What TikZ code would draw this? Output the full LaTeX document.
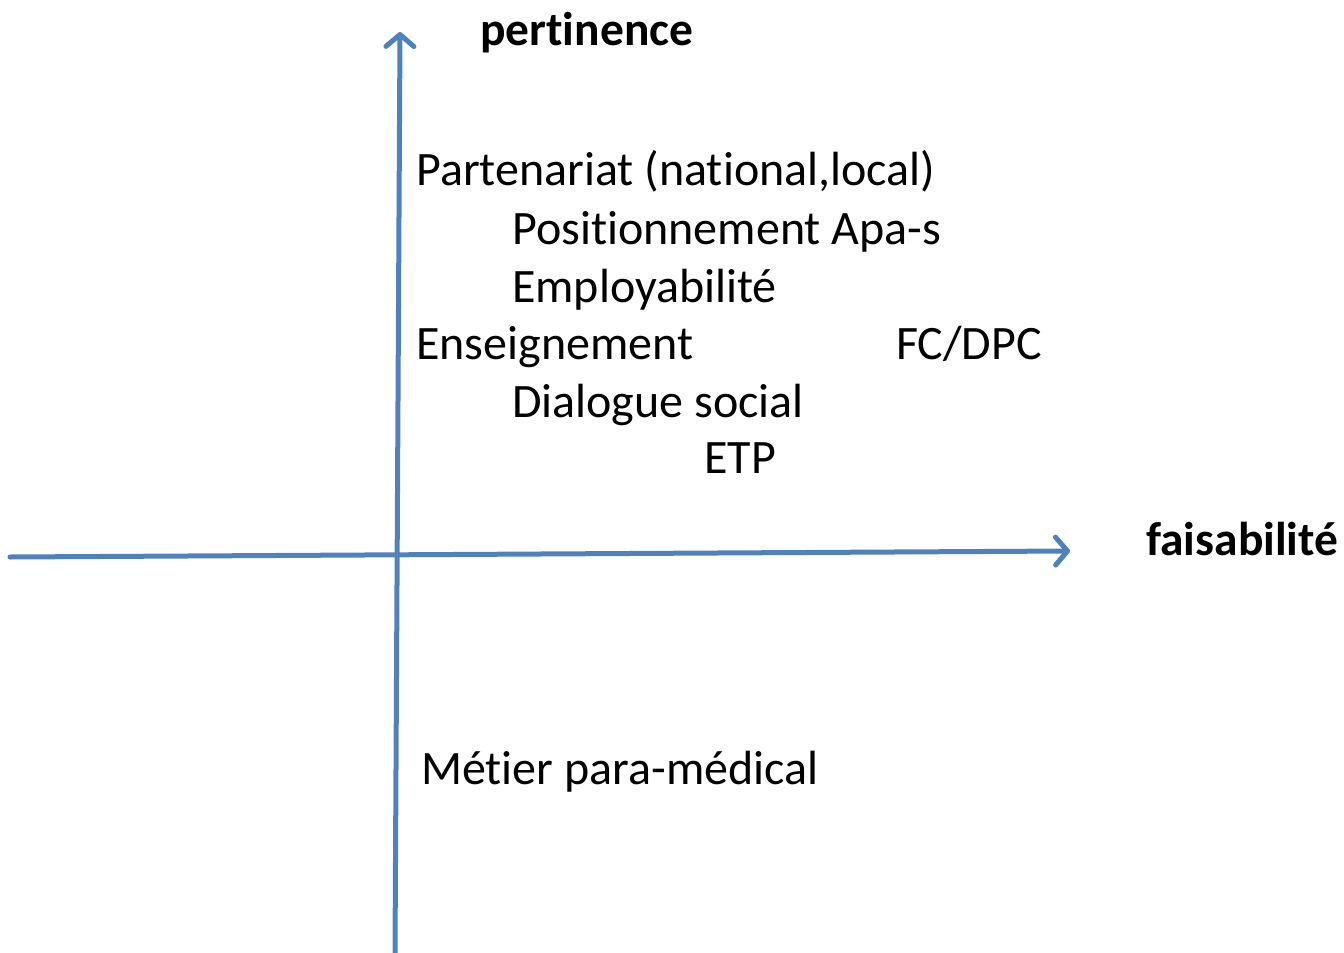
\documentclass[tikz,border=0pt]{standalone}
\usepackage{fontspec}
\setmainfont[Ligatures={NoCommon}]{Carlito}
\usetikzlibrary{arrows.meta}
\definecolor{axisblue}{HTML}{4F81BD}
\tikzset{
  axis/.style={draw=axisblue, line width=5pt, line cap=round, -{Straight Barb[length=12pt, width=28pt, line width=5pt, round]}},
  lbl/.style={anchor=base west, inner sep=0pt, font=\fontsize{48}{57}\selectfont},
  blbl/.style={lbl, font=\fontsize{47.5}{57}\selectfont\bfseries}
}
\begin{document}
\begin{tikzpicture}[x=1pt,y=-1pt]
\useasboundingbox (0,0) rectangle (1344,953);
\coordinate (vb) at (395,953);
\coordinate (vt) at (400,32);
\coordinate (hl) at (10,557);
\coordinate (hr) at (1070,551);
\draw[axis] (vb) -- (vt);
\draw[axis] (hl) -- (hr);
\node[blbl] (pert) at (480,45) {pertinence};
\node[blbl] (fais) at (1146,555) {faisabilité};
\node[lbl] (part) at (416,185) {Partenariat (national,local)};
\node[lbl] (posi) at (512,244) {Positionnement Apa-s};
\node[lbl] (empl) at (512,302) {Employabilité};
\node[lbl] (ense) at (416,359) {Enseignement};
\node[lbl] (fcdpc) at (896,359) {FC/DPC};
\node[lbl] (dial) at (512,417) {Dialogue social};
\node[lbl] (etp) at (704,473) {ETP};
\node[lbl] (meti) at (421,784) {Métier para-médical};
\end{tikzpicture}
\end{document}
